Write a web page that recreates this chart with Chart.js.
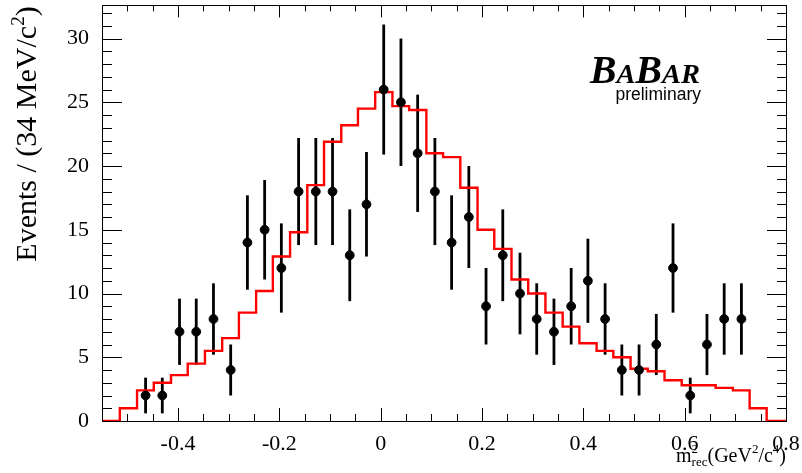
<!DOCTYPE html>
<html>
<head>
<meta charset="utf-8">
<script src="https://cdn.jsdelivr.net/npm/chart.js@4.4.1/dist/chart.umd.min.js"></script>
<style>
  html, body { margin: 0; padding: 0; background: #fff; }
  #wrap { width: 802px; height: 473px; position: relative; }
</style>
</head>
<body>
<div id="wrap"><canvas id="myChart"></canvas></div>
<script>
// bin centres of m2_rec (GeV^2/c^4)
const binCenters = [-0.498, -0.464, -0.431, -0.397, -0.364, -0.330, -0.296, -0.263, -0.229, -0.196,
                    -0.162, -0.128, -0.095, -0.061, -0.028, 0.006, 0.040, 0.073, 0.107, 0.140,
                    0.174, 0.208, 0.241, 0.275, 0.308, 0.342, 0.376, 0.409, 0.443, 0.476,
                    0.510, 0.544, 0.577, 0.611, 0.644, 0.678, 0.712, 0.745];
// red histogram (expectation)
const mcCounts = [1.0, 2.4, 3.0, 3.6, 4.5, 5.5, 6.5, 8.5, 10.2, 12.9,
                  14.8, 18.5, 21.9, 23.2, 24.5, 25.8, 24.7, 24.4, 21.0, 20.7,
                  18.3, 15.0, 13.5, 11.1, 10.0, 8.5, 7.4, 6.1, 5.5, 5.0,
                  4.1, 3.9, 3.2, 2.8, 2.8, 2.6, 2.4, 1.0];
// data points and their error bars
const dataCounts = [null, 2, 2, 7, 7, 8, 4, 14, 15, 12,
                    18, 18, 18, 13, 17, 26, 25, 21, 18, 14,
                    16, 9, 13, 10, 8, 7, 9, 11, 8, 4,
                    4, 6, 12, 2, 6, 8, 8, null];
const dataErrors = [null, 1.4, 1.4, 2.6, 2.6, 2.8, 2.0, 3.7, 3.9, 3.5,
                    4.2, 4.2, 4.2, 3.6, 4.1, 5.1, 5.0, 4.6, 4.2, 3.7,
                    4.0, 3.0, 3.6, 3.2, 2.8, 2.6, 3.0, 3.3, 2.8, 2.0,
                    2.0, 2.4, 3.5, 1.4, 2.4, 2.8, 2.8, null];
const xTickLabels = [-0.4, -0.2, 0, 0.2, 0.4, 0.6, 0.8];
const yTickLabels = [0, 5, 10, 15, 20, 25, 30];
const binWidth = 0.0336;

const histPoints = [{x: -0.55, y: 0}];
binCenters.forEach((c, i) => histPoints.push({x: c - binWidth / 2, y: mcCounts[i]}));
histPoints.push({x: binCenters[binCenters.length - 1] + binWidth / 2, y: 0});
histPoints.push({x: 0.8, y: 0});

const dataPoints = [];
binCenters.forEach((c, i) => {
    if (dataCounts[i] !== null) dataPoints.push({x: c, y: dataCounts[i], err: dataErrors[i]});
});

const serif = '"Liberation Serif", "Times New Roman", serif';

const errorBars = {
    id: 'errorBars',
    beforeDatasetsDraw(chart) {
        const {ctx, scales: {x, y}} = chart;
        ctx.save();
        ctx.strokeStyle = '#000';
        ctx.lineWidth = 2.8;
        dataPoints.forEach(p => {
            const px = x.getPixelForValue(p.x);
            ctx.beginPath();
            ctx.moveTo(px, y.getPixelForValue(p.y - p.err));
            ctx.lineTo(px, y.getPixelForValue(p.y + p.err));
            ctx.stroke();
        });
        ctx.restore();
    }
};

const frameTicks = {
    id: 'frameTicks',
    afterDatasetsDraw(chart) {
        const {ctx, chartArea: a, scales: {x, y}} = chart;
        ctx.save();
        ctx.strokeStyle = '#000';
        ctx.lineWidth = 1;
        ctx.strokeRect(Math.round(a.left) + 0.5, Math.round(a.top) + 0.5,
                       Math.round(a.right - a.left), Math.round(a.bottom - a.top));
        ctx.beginPath();
        for (let k = Math.ceil(x.min / 0.05 - 1e-6); k * 0.05 <= x.max + 1e-6; k++) {
            const v = k * 0.05;
            const px = Math.round(x.getPixelForValue(v)) + 0.5;
            const major = xTickLabels.some(t => Math.abs(t - v) < 1e-6);
            ctx.moveTo(px, a.bottom); ctx.lineTo(px, a.bottom - (major ? 13 : 7));
            ctx.moveTo(px, a.top); ctx.lineTo(px, a.top + (major ? 12 : 6));
        }
        for (let v = Math.ceil(y.min); v <= y.max; v++) {
            const py = Math.round(y.getPixelForValue(v)) + 0.5;
            const major = v % 5 === 0;
            ctx.moveTo(a.left, py); ctx.lineTo(a.left + (major ? 20 : 10), py);
            ctx.moveTo(a.right, py); ctx.lineTo(a.right - (major ? 19 : 9), py);
        }
        ctx.stroke();
        ctx.restore();
    },
    afterDraw(chart) {
        const {ctx, chartArea: a} = chart;
        ctx.save();
        ctx.fillStyle = '#000';
        ctx.textBaseline = 'alphabetic';

        // y title
        ctx.save();
        ctx.translate(36, 134);
        ctx.rotate(-Math.PI / 2);
        const big = '30px ' + serif, sup = '19px ' + serif;
        ctx.font = big;
        const t1 = 'Events / (34 MeV/c', t2 = ')';
        const w1 = ctx.measureText(t1).width, w3 = ctx.measureText(t2).width;
        ctx.font = sup;
        const w2 = ctx.measureText('2').width;
        let xs = -(w1 + w2 + w3) / 2;
        ctx.font = big; ctx.fillText(t1, xs, 0); xs += w1;
        ctx.font = sup; ctx.fillText('2', xs, -12); xs += w2;
        ctx.font = big; ctx.fillText(t2, xs, 0);
        ctx.restore();

        // x title, right aligned with the frame
        const main = '20px ' + serif, small = '13px ' + serif;
        const parts = [
            {t: 'm', f: main, dy: 0},
            {t: '2', f: small, dy: -9, stack: 'rec'},
            {t: '(GeV', f: main, dy: 0},
            {t: '2', f: small, dy: -9},
            {t: '/c', f: main, dy: 0},
            {t: '4', f: small, dy: -9},
            {t: ')', f: main, dy: 0}
        ];
        let total = 0;
        parts.forEach(p => {
            ctx.font = p.f;
            p.w = ctx.measureText(p.t).width;
            if (p.stack) p.w = Math.max(p.w, ctx.measureText(p.stack).width);
            total += p.w;
        });
        let px = a.right - total;
        const base = 462;
        parts.forEach(p => {
            ctx.font = p.f;
            ctx.fillText(p.t, px, base + p.dy);
            if (p.stack) ctx.fillText(p.stack, px, base + 4);
            px += p.w;
        });

        // BaBar logo
        const bFont = 'italic bold 39px ' + serif, aFont = 'italic bold 28px ' + serif;
        const letters = [['B', bFont], ['A', aFont], ['B', bFont], ['A', aFont], ['R', aFont]];
        let lw = 0;
        letters.forEach(l => { ctx.font = l[1]; l.push(ctx.measureText(l[0]).width); lw += l[2]; });
        const stretch = 110 / lw;
        ctx.save();
        ctx.translate(590, 83);
        ctx.scale(stretch, 1);
        let lx = 0;
        letters.forEach(l => { ctx.font = l[1]; ctx.fillText(l[0], lx, 0); lx += l[2]; });
        ctx.restore();
        ctx.font = '17.5px "Liberation Sans", Arial, sans-serif';
        ctx.textAlign = 'right';
        ctx.fillText('preliminary', 701, 100);
        ctx.restore();
    }
};

const config = {
    data: {
        datasets: [
            {
                type: 'scatter',
                data: dataPoints,
                backgroundColor: '#000',
                borderColor: '#000',
                pointRadius: 4.4,
                pointHoverRadius: 4.4,
                order: 0
            },
            {
                type: 'line',
                data: histPoints,
                stepped: true,
                borderColor: '#ff0000',
                borderWidth: 2.4,
                pointRadius: 0,
                fill: false,
                order: 1
            }
        ]
    },
    options: {
        responsive: true,
        maintainAspectRatio: false,
        animation: false,
        events: [],
        layout: {padding: {left: 0, right: 16, top: 3, bottom: 0}},
        plugins: {legend: {display: false}, tooltip: {enabled: false}, title: {display: false}},
        scales: {
            x: {
                type: 'linear',
                min: -0.55,
                max: 0.8,
                grid: {display: false},
                border: {display: false},
                afterBuildTicks: s => { s.ticks = xTickLabels.map(v => ({value: v})); },
                afterFit: s => { s.height = 52; s.paddingLeft = 0; s.paddingRight = 0; },
                ticks: {
                    color: '#000',
                    font: {family: serif, size: 22},
                    padding: 2,
                    maxRotation: 0,
                    callback: v => String(v)
                }
            },
            y: {
                type: 'linear',
                min: 0,
                max: 32.6,
                grid: {display: false},
                border: {display: false},
                afterBuildTicks: s => { s.ticks = yTickLabels.map(v => ({value: v})); },
                afterFit: s => { s.width = 102; s.paddingTop = 0; s.paddingBottom = 0; },
                ticks: {
                    color: '#000',
                    font: {family: serif, size: 22},
                    padding: 5,
                    callback: v => String(v)
                }
            }
        }
    },
    plugins: [errorBars, frameTicks]
};

const myChart = new Chart(document.getElementById('myChart'), config);
</script>
</body>
</html>
